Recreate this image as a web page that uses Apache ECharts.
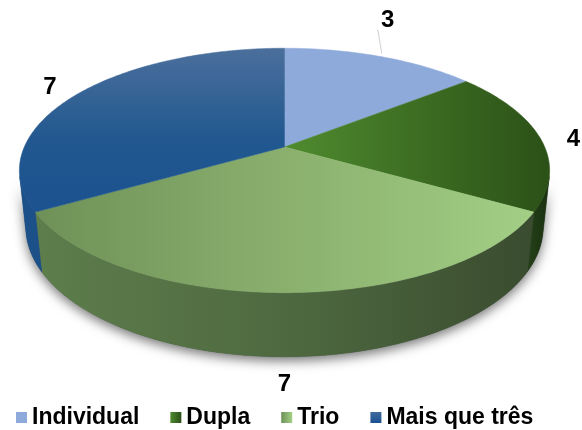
<!DOCTYPE html>
<html>
<head>
<meta charset="utf-8">
<script src="https://cdn.jsdelivr.net/npm/echarts@6/dist/echarts.min.js"></script>
<style>
html, body { margin: 0; background: #fff; }
#pie3d { width: 582px; height: 430px; }
</style>
</head>
<body>
<div id="pie3d"></div>
<script>
var categories = ['Individual', 'Dupla', 'Trio', 'Mais que três'];
var values = [3, 4, 7, 7];

// label nudges (px) from the slice rim, like the hand-placed Excel labels
var labelShift = [[7, -36], [33, 1], [0, 92], [-29, -6]];
var hasLeader = [true, false, false, false];

var FONT = '"Liberation Sans", Arial, sans-serif';

// fake 3d camera
var CX = 284.5, CY = 147;
var F = 1210, DIST = 4.65, TILT = 26.9 * Math.PI / 180, DEPTH = 0.245;

function project(theta, r, h) {
    var x = r * Math.sin(theta), z = r * Math.cos(theta);
    var s = Math.sin(TILT), c = Math.cos(TILT);
    var u = h * c + z * s;
    var d = DIST + z * c - h * s;
    return [CX + F * x / d, CY - F * u / d];
}

// outer wall faces the camera only in this range
var wallFrom = Math.acos(-1 / (DIST * Math.cos(TILT)));
var wallTo = 2 * Math.PI - wallFrom;

var total = values.reduce(function (a, b) { return a + b; }, 0);

function sliceRange(i) {
    var before = 0;
    for (var k = 0; k < i; k++) before += values[k];
    return [before / total * 2 * Math.PI, (before + values[i]) / total * 2 * Math.PI];
}

function arc(a0, a1, h) {
    var pts = [];
    var n = Math.max(2, Math.ceil((a1 - a0) / (Math.PI / 180)));
    for (var k = 0; k <= n; k++) pts.push(project(a0 + (a1 - a0) * k / n, 1, h));
    return pts;
}

var G = echarts.graphic.LinearGradient;
function grad(x0, y0, x1, y1, stops, global) {
    return new G(x0, y0, x1, y1, stops.map(function (c, k) {
        return {offset: k / (stops.length - 1), color: c};
    }), global);
}

var flatColor = ['#8eaadb', '#3f7424', '#8bb06e', '#21588f'];
var topFill = [
    '#8eaadb',
    grad(284, 0, 557, 0, ['#4f8b2f', '#3c6d22', '#2b4f17'], true),
    grad(28, 0, 548, 0, ['#6d9057', '#8bb06e', '#a3d186'], true),
    grad(0, 48, 0, 230, ['#4b6f9c', '#21588f', '#1a5190'], true)
];
var sideFill = [
    '#5f7aa8',
    grad(525, 0, 557, 0, ['#25421a', '#162a0c'], true),
    grad(28, 0, 548, 0, ['#5e7e4c', '#4e6940', '#394a2e'], true),
    '#1c5089'
];
var legendFill = [
    '#8eaadb',
    grad(0, 0, 1, 0, ['#4f8b2f', '#2b4f17']),
    grad(0, 0, 1, 0, ['#6d9057', '#a3d186']),
    grad(0, 0, 0, 1, ['#3f6a9c', '#1a5190'])
];

function renderSlice(i) {
    return function (params, api) {
        var r = sliceRange(i), a0 = r[0], a1 = r[1];
        var kids = [];

        if (i === 0) {
            // soft shadow under the whole visible wall
            kids.push({
                type: 'polygon', z2: 0,
                shape: {points: arc(wallFrom, wallTo, 0).concat(arc(wallFrom, wallTo, -DEPTH).reverse())},
                style: {fill: '#556', shadowBlur: 12, shadowOffsetY: 4, shadowColor: 'rgba(0,0,0,0.55)'}
            });
        }

        var w0 = Math.max(a0, wallFrom), w1 = Math.min(a1, wallTo);
        if (w1 > w0) {
            kids.push({
                type: 'polygon', z2: 1,
                shape: {points: arc(w0, w1, 0).concat(arc(w0, w1, -DEPTH).reverse())},
                style: {fill: sideFill[i], stroke: sideFill[i], lineWidth: 0.5}
            });
        }

        kids.push({
            type: 'polygon', z2: 2,
            shape: {points: [project(0, 0, 0)].concat(arc(a0, a1, 0))},
            style: {fill: topFill[i], stroke: topFill[i], lineWidth: 0.5}
        });

        var mid = (a0 + a1) / 2;
        var rim = project(mid, 1, 0);
        var lx = rim[0] + labelShift[i][0], ly = rim[1] + labelShift[i][1];
        if (hasLeader[i]) {
            kids.push({
                type: 'line', z2: 4,
                shape: {x1: rim[0] + 1, y1: rim[1] - 3, x2: lx - 10, y2: ly + 9},
                style: {stroke: '#d0d0d0', lineWidth: 1}
            });
        }
        kids.push({
            type: 'text', z2: 5, x: lx, y: ly,
            style: {
                text: String(api.value(0)),
                fill: '#000',
                font: 'bold 24px ' + FONT,
                align: 'center',
                verticalAlign: 'middle'
            }
        });
        return {type: 'group', children: kids};
    };
}

var chart = echarts.init(document.getElementById('pie3d'));
chart.setOption({
    backgroundColor: '#fff',
    animation: false,
    legend: {
        data: categories.map(function (c, i) {
            return {name: c, itemStyle: {color: legendFill[i]}};
        }),
        left: 11,
        top: 401,
        icon: 'rect',
        itemWidth: 11,
        itemHeight: 11,
        itemGap: 31,
        selectedMode: false,
        textStyle: {
            fontSize: 23,
            fontWeight: 'bold',
            color: '#000',
            fontFamily: FONT
        }
    },
    series: categories.map(function (c, i) {
        return {
            type: 'custom',
            name: c,
            coordinateSystem: 'none',
            silent: true,
            itemStyle: {color: flatColor[i]},
            data: [values[i]],
            renderItem: renderSlice(i)
        };
    })
});
</script>
</body>
</html>
